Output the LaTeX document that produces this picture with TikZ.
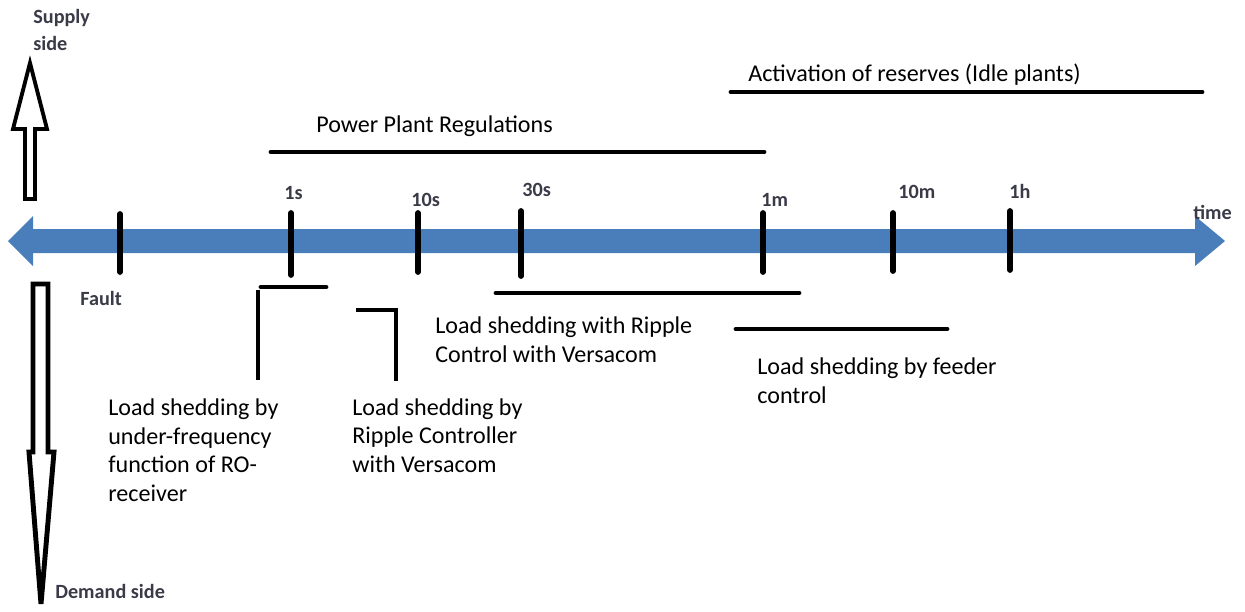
\documentclass[tikz,border=0pt]{standalone}
\usepackage{fontspec}
\setmainfont{Carlito}
\definecolor{axisblue}{HTML}{4A7EBB}
\definecolor{labelgray}{HTML}{3A3A48}
\begin{document}
\begin{tikzpicture}[x=0.02cm,y=-0.02cm,
  desc/.style={inner sep=0pt,anchor=base west,align=left,font=\fontsize{13.7}{16.2}\selectfont,text=black},
  lab/.style={inner sep=0pt,anchor=base west,align=left,font=\fontsize{11.5}{15.5}\selectfont\bfseries,text=labelgray},
  tick/.style={line width=3.3pt,line cap=round},
  span/.style={line width=2.8pt,line cap=round},
  hollow/.style={line width=2.2pt,line join=miter,fill=white}]
\useasboundingbox (0,0) rectangle (1245,612);
% main time axis
\fill[axisblue] (8,241) -- (33,216) -- (33,229) -- (1195,229) -- (1195,216) -- (1225,241)
  -- (1195,266) -- (1195,253) -- (33,253) -- (33,266) -- cycle;
% supply arrow
\draw[hollow] (30,63) -- (47,129) -- (35,129) -- (35,199) -- (25,199) -- (25,129) -- (13,129) -- cycle;
% demand arrow
\draw[hollow,line width=2.8pt] (33,284) -- (48,284) -- (48,452) -- (54,452) -- (41,604) -- (29,452) -- (33,452) -- cycle;
% ticks
\coordinate (tF1) at (120,214); \coordinate (tF2) at (120,272);
\coordinate (t1a) at (291,213); \coordinate (t1b) at (291,275);
\coordinate (t2a) at (418,213); \coordinate (t2b) at (418,272);
\coordinate (t3a) at (521,211); \coordinate (t3b) at (521,276);
\coordinate (t4a) at (763,213); \coordinate (t4b) at (763,272);
\coordinate (t5a) at (893,213); \coordinate (t5b) at (893,271);
\coordinate (t6a) at (1010,211); \coordinate (t6b) at (1010,270);
\draw[tick] (tF1) -- (tF2);
\draw[tick] (t1a) -- (t1b);
\draw[tick] (t2a) -- (t2b);
\draw[tick] (t3a) -- (t3b);
\draw[tick] (t4a) -- (t4b);
\draw[tick] (t5a) -- (t5b);
\draw[tick] (t6a) -- (t6b);
% tick labels
\node[lab] (l1s) at (284,199) {1s};
\node[lab] (l10s) at (411,206) {10s};
\node[lab] (l30s) at (522,196) {30s};
\node[lab] (l1m) at (761,206) {1m};
\node[lab] (l10m) at (898,198) {10m};
\node[lab] (l1h) at (1009,198) {1h};
\node[lab] (ltime) at (1193,219) {time};
\node[lab] (lfault) at (80,305) {Fault};
\node[lab] (lsupply) at (33,51) {Supply\\side};
\node[lab] (ldemand) at (55,598) {Demand side};
% spans
\coordinate (a1) at (731,92); \coordinate (a2) at (1202,92);
\draw[span] (a1) -- (a2);
\node[desc] (tact) at (748,81) {Activation of reserves (Idle plants)};
\coordinate (p1) at (271,152); \coordinate (p2) at (764,152);
\draw[span] (p1) -- (p2);
\node[desc] (tppr) at (316,132) {Power Plant Regulations};
\coordinate (r1) at (496,293); \coordinate (r2) at (799,293);
\draw[span] (r1) -- (r2);
\node[desc] (tripple) at (435,362) {Load shedding with Ripple\\Control with Versacom};
\coordinate (f1) at (736,329); \coordinate (f2) at (947,329);
\draw[span] (f1) -- (f2);
\node[desc] (tfeeder) at (757,403) {Load shedding by feeder\\control};
% brackets
\coordinate (u1) at (261,287); \coordinate (u2) at (326,287);
\coordinate (u3) at (258,290); \coordinate (u4) at (258,380);
\draw[span] (u1) -- (u2);
\draw[line width=2.2pt] (u3) -- (u4);
\coordinate (v1) at (356,310); \coordinate (v2) at (396,310); \coordinate (v3) at (396,381);
\draw[span,line cap=butt,line join=miter] (v1) -- (v2) -- (v3);
\node[desc] (tunder) at (108,501) {Load shedding by\\under-frequency\\function of RO-\\receiver};
\node[desc] (tctrl) at (352,472) {Load shedding by\\Ripple Controller\\with Versacom};
\end{tikzpicture}
\end{document}
